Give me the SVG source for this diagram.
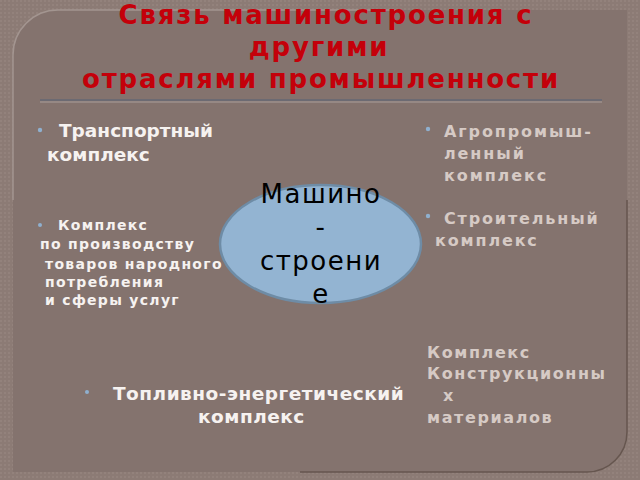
<svg xmlns="http://www.w3.org/2000/svg" width="640" height="480" viewBox="0 0 640 480">
<defs>
<pattern id="tex" width="4" height="4" patternUnits="userSpaceOnUse">
<rect width="4" height="4" fill="#8c7b75"/>
<rect width="2" height="2" fill="#93827c"/>
</pattern>
<style>
.title{font-family:"DejaVu Sans","Liberation Sans",sans-serif;font-weight:bold;font-size:26px;fill:#c4000a;letter-spacing:1.8px;text-anchor:middle}
.w{font-family:"DejaVu Sans","Liberation Sans",sans-serif;font-weight:bold;fill:#f6f2f0}
.m{font-family:"DejaVu Sans","Liberation Sans",sans-serif;font-weight:bold;fill:#d6cac5}
.b{fill:#8fb0cf}
.c{font-family:"DejaVu Sans","Liberation Sans",sans-serif;font-size:26px;fill:#000;letter-spacing:1.5px;text-anchor:middle}
</style>
</defs>
<rect width="640" height="480" fill="url(#tex)"/>
<path d="M13,55 A45,45 0 0 1 58,10 H627 V432 A40,40 0 0 1 587,472 H13 Z" fill="#84736e"/>
<path d="M13,200 V55 A45,45 0 0 1 58,10 H400" fill="none" stroke="#a39590" stroke-width="1.5"/>
<path d="M627,200 V432 A40,40 0 0 1 587,472 H300" fill="none" stroke="#66564f" stroke-width="1.5"/>
<g id="title">
<text class="title" x="326" y="24">Связь машиностроения с</text>
<text class="title" x="319" y="56">другими</text>
<text class="title" x="321" y="88">отраслями промышленности</text>
</g>
<line x1="40" y1="100" x2="602" y2="100" stroke="#6c6a72" stroke-width="2"/>
<line x1="40" y1="102" x2="602" y2="102" stroke="#a89e9a" stroke-width="1"/>
<g id="center">
<ellipse cx="320.5" cy="244" rx="100.5" ry="59" fill="#93b4d2" stroke="#6e8ca6" stroke-width="2.5"/>
<text class="c" x="321" y="203">Машино</text>
<text class="c" x="321" y="236">-</text>
<text class="c" x="321" y="270">строени</text>
<text class="c" x="321" y="303">е</text>
</g>
<g id="transport">
<circle class="b" cx="40" cy="130" r="2.2"/>
<text class="w" font-size="18.5" letter-spacing="0"><tspan x="59" y="137">Транспортный</tspan><tspan x="47" y="161">комплекс</tspan></text>
</g>
<g id="consumer">
<circle class="b" cx="40" cy="225" r="2"/>
<text class="w" font-size="14" letter-spacing="1.3"><tspan x="58" y="230">Комплекс</tspan><tspan x="40" y="249">по производству</tspan><tspan x="45" y="269">товаров народного</tspan><tspan x="45" y="287">потребления</tspan><tspan x="45" y="305">и сферы услуг</tspan></text>
</g>
<g id="fuel">
<circle class="b" cx="87" cy="392" r="2"/>
<text class="w" font-size="18.5" letter-spacing="0.5"><tspan x="113" y="400">Топливно-энергетический</tspan><tspan x="198" y="423">комплекс</tspan></text>
</g>
<g id="agro">
<circle class="b" cx="428" cy="129" r="2.2"/>
<text class="m" font-size="16" letter-spacing="1.9"><tspan x="444" y="137">Агропромыш-</tspan><tspan x="444" y="159">ленный</tspan><tspan x="444" y="181">комплекс</tspan></text>
</g>
<g id="construction">
<circle class="b" cx="428" cy="216" r="2.2"/>
<text class="m" font-size="16" letter-spacing="1.85"><tspan x="444" y="224">Строительный</tspan><tspan x="435" y="246">комплекс</tspan></text>
</g>
<g id="materials">
<text class="m" font-size="16" letter-spacing="1.6"><tspan x="427" y="358">Комплекс</tspan><tspan x="427" y="379">Конструкционны</tspan><tspan x="443" y="401">х</tspan><tspan x="427" y="423">материалов</tspan></text>
</g>
<g id="connectors"/>
</svg>
